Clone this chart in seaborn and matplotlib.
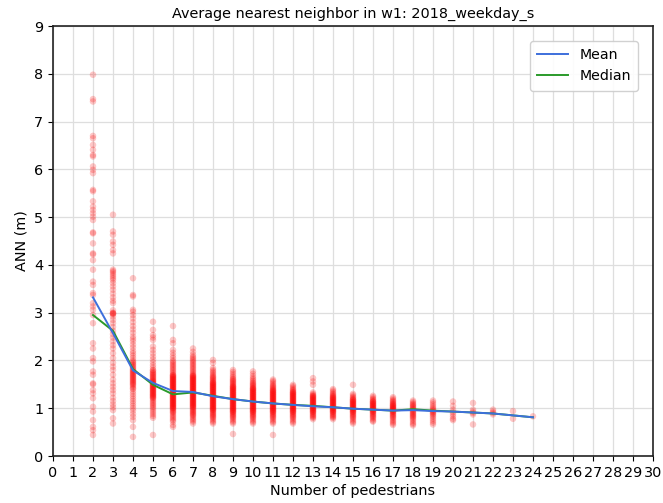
import matplotlib
matplotlib.use("Agg")
import matplotlib.pyplot as plt
from matplotlib.lines import Line2D
import seaborn as sns
import pandas as pd

# ---- data ----
title = "Average nearest neighbor in w1: 2018_weekday_s"
x_label = "Number of pedestrians"
y_label = "ANN (m)"

ann_2 = [7.98, 7.47, 7.42, 6.70, 6.65, 6.51, 6.41, 6.30, 6.27, 6.06, 5.99, 5.92,
         5.57, 5.54, 5.33, 5.22, 5.15, 5.08, 5.01, 4.94, 4.68, 4.66, 4.45, 4.24,
         4.22, 4.10, 3.90, 3.65, 3.58, 3.41, 3.37, 3.20, 3.13, 3.06, 2.95, 2.78,
         2.36, 2.25, 2.05, 1.98, 1.77, 1.70, 1.52, 1.50, 1.38, 1.31, 1.21, 1.03,
         0.93, 0.75, 0.61, 0.54, 0.44]
ann_3 = [5.05, 4.70, 4.63, 4.49, 4.42, 4.31, 4.24, 3.90, 3.87, 3.84, 3.80, 3.76,
         3.72, 3.68, 3.62, 3.55, 3.48, 3.40, 3.32, 3.25, 3.20, 3.05, 3.00, 2.99,
         2.98, 2.97, 2.92, 2.85, 2.78, 2.70, 2.62, 2.55, 2.48, 2.40, 2.32, 2.25,
         2.15, 2.05, 1.95, 1.87, 1.80, 1.70, 1.60, 1.52, 1.45, 1.38, 1.31, 1.22,
         1.15, 1.08, 1.02, 0.96, 0.79, 0.68]
ann_4 = [3.72, 3.37, 3.34, 3.06, 3.02, 2.95, 2.88, 2.80, 2.72, 2.65, 2.58, 2.50,
         2.45, 2.40, 2.33, 2.27, 2.20, 2.15, 2.10, 2.05, 2.00, 1.97, 1.95, 1.92,
         1.90, 1.87, 1.85, 1.82, 1.80, 1.78, 1.76, 1.74, 1.72, 1.70, 1.68, 1.66,
         1.64, 1.62, 1.60, 1.58, 1.56, 1.54, 1.52, 1.50, 1.48, 1.45, 1.42, 1.40,
         1.35, 1.30, 1.25, 1.20, 1.15, 1.10, 1.05, 1.00, 0.95, 0.88, 0.82, 0.75,
         0.61, 0.40]
ann_5 = [2.81, 2.64, 2.53, 2.48, 2.43, 2.29, 2.22, 2.15, 2.08, 2.02, 1.96, 1.90,
         1.85, 1.80, 1.79, 1.76, 1.74, 1.72, 1.70, 1.68, 1.66, 1.64, 1.62, 1.60,
         1.58, 1.57, 1.55, 1.54, 1.52, 1.51, 1.49, 1.48, 1.46, 1.45, 1.43, 1.42,
         1.40, 1.39, 1.37, 1.36, 1.34, 1.33, 1.31, 1.30, 1.28, 1.27, 1.25, 1.24,
         1.22, 1.21, 1.18, 1.15, 1.12, 1.09, 1.06, 1.03, 1.00, 0.96, 0.92, 0.88,
         0.84, 0.80, 0.44]
ann_6 = [2.72, 2.43, 2.36, 2.22, 2.16, 2.10, 2.05, 2.00, 1.97, 1.94, 1.91, 1.88,
         1.85, 1.82, 1.79, 1.76, 1.73, 1.70, 1.69, 1.68, 1.66, 1.65, 1.64, 1.62,
         1.61, 1.60, 1.58, 1.57, 1.56, 1.54, 1.53, 1.52, 1.50, 1.49, 1.48, 1.46,
         1.45, 1.44, 1.42, 1.41, 1.40, 1.38, 1.37, 1.36, 1.34, 1.33, 1.32, 1.30,
         1.29, 1.28, 1.26, 1.25, 1.24, 1.22, 1.21, 1.20, 1.18, 1.17, 1.16, 1.14,
         1.13, 1.12, 1.10, 1.09, 1.08, 1.06, 1.05, 1.04, 1.02, 1.01, 1.00, 0.98,
         0.96, 0.94, 0.92, 0.90, 0.87, 0.84, 0.81, 0.78, 0.75, 0.72, 0.65, 0.61]
ann_7 = [2.25, 2.18, 2.12, 2.08, 2.05, 2.02, 1.99, 1.96, 1.93, 1.90, 1.87, 1.84,
         1.81, 1.78, 1.75, 1.72, 1.70, 1.68, 1.67, 1.66, 1.64, 1.63, 1.62, 1.60,
         1.59, 1.58, 1.56, 1.55, 1.54, 1.52, 1.51, 1.50, 1.48, 1.47, 1.46, 1.44,
         1.43, 1.42, 1.40, 1.39, 1.38, 1.36, 1.35, 1.34, 1.32, 1.31, 1.30, 1.28,
         1.27, 1.26, 1.24, 1.23, 1.22, 1.20, 1.19, 1.18, 1.16, 1.15, 1.14, 1.12,
         1.11, 1.10, 1.08, 1.07, 1.06, 1.04, 1.03, 1.02, 1.00, 0.98, 0.96, 0.94,
         0.92, 0.90, 0.88, 0.86, 0.84, 0.81, 0.78, 0.75, 0.72, 0.68]
ann_8 = [2.01, 1.95, 1.84, 1.80, 1.77, 1.74, 1.71, 1.68, 1.66, 1.64, 1.62, 1.60,
         1.58, 1.56, 1.54, 1.53, 1.52, 1.50, 1.49, 1.48, 1.46, 1.45, 1.44, 1.42,
         1.41, 1.40, 1.38, 1.37, 1.36, 1.34, 1.33, 1.32, 1.30, 1.29, 1.28, 1.26,
         1.25, 1.24, 1.22, 1.21, 1.20, 1.18, 1.17, 1.16, 1.14, 1.13, 1.12, 1.10,
         1.09, 1.08, 1.06, 1.05, 1.04, 1.02, 1.01, 1.00, 0.98, 0.97, 0.96, 0.94,
         0.92, 0.90, 0.88, 0.86, 0.84, 0.82, 0.80, 0.77, 0.74, 0.71, 0.68]
ann_9 = [1.80, 1.76, 1.72, 1.68, 1.65, 1.62, 1.60, 1.58, 1.56, 1.54, 1.52, 1.50,
         1.48, 1.46, 1.45, 1.44, 1.42, 1.41, 1.40, 1.38, 1.37, 1.36, 1.34, 1.33,
         1.32, 1.30, 1.29, 1.28, 1.26, 1.25, 1.24, 1.22, 1.21, 1.20, 1.18, 1.17,
         1.16, 1.14, 1.13, 1.12, 1.10, 1.09, 1.08, 1.06, 1.05, 1.04, 1.02, 1.01,
         1.00, 0.98, 0.97, 0.96, 0.94, 0.93, 0.92, 0.90, 0.88, 0.86, 0.84, 0.82,
         0.80, 0.77, 0.74, 0.71, 0.68, 0.46]
ann_10 = [1.77, 1.72, 1.67, 1.63, 1.60, 1.57, 1.54, 1.52, 1.50, 1.48, 1.46, 1.44,
          1.42, 1.41, 1.40, 1.38, 1.37, 1.36, 1.34, 1.33, 1.32, 1.30, 1.29, 1.28,
          1.26, 1.25, 1.24, 1.22, 1.21, 1.20, 1.18, 1.17, 1.16, 1.14, 1.13, 1.12,
          1.10, 1.09, 1.08, 1.06, 1.05, 1.04, 1.02, 1.01, 1.00, 0.98, 0.97, 0.96,
          0.94, 0.93, 0.92, 0.90, 0.88, 0.86, 0.84, 0.82, 0.80, 0.77, 0.74, 0.71,
          0.68]
ann_11 = [1.60, 1.57, 1.54, 1.51, 1.48, 1.46, 1.44, 1.42, 1.40, 1.38, 1.37, 1.36,
          1.34, 1.33, 1.32, 1.30, 1.29, 1.28, 1.26, 1.25, 1.24, 1.22, 1.21, 1.20,
          1.18, 1.17, 1.16, 1.14, 1.13, 1.12, 1.10, 1.09, 1.08, 1.06, 1.05, 1.04,
          1.02, 1.01, 1.00, 0.98, 0.97, 0.96, 0.94, 0.93, 0.92, 0.90, 0.88, 0.86,
          0.84, 0.82, 0.80, 0.77, 0.74, 0.71, 0.68, 0.44]
ann_12 = [1.49, 1.46, 1.43, 1.40, 1.38, 1.36, 1.34, 1.33, 1.32, 1.30, 1.29, 1.28,
          1.26, 1.25, 1.24, 1.22, 1.21, 1.20, 1.18, 1.17, 1.16, 1.14, 1.13, 1.12,
          1.10, 1.09, 1.08, 1.06, 1.05, 1.04, 1.02, 1.01, 1.00, 0.98, 0.97, 0.96,
          0.94, 0.93, 0.92, 0.90, 0.88, 0.86, 0.84, 0.82, 0.80, 0.77, 0.74, 0.71,
          0.68]
ann_13 = [1.63, 1.56, 1.49, 1.33, 1.30, 1.28, 1.26, 1.25, 1.24, 1.22, 1.21, 1.20,
          1.18, 1.17, 1.16, 1.14, 1.13, 1.12, 1.10, 1.09, 1.08, 1.06, 1.05, 1.04,
          1.02, 1.01, 1.00, 0.98, 0.97, 0.96, 0.94, 0.93, 0.92, 0.90, 0.88, 0.86,
          0.84, 0.82, 0.80, 0.77]
ann_14 = [1.40, 1.37, 1.34, 1.31, 1.29, 1.27, 1.25, 1.24, 1.22, 1.21, 1.20, 1.18,
          1.17, 1.16, 1.14, 1.13, 1.12, 1.10, 1.09, 1.08, 1.06, 1.05, 1.04, 1.02,
          1.01, 1.00, 0.98, 0.97, 0.96, 0.94, 0.93, 0.92, 0.90, 0.88, 0.86, 0.84,
          0.82, 0.80, 0.77]
ann_15 = [1.49, 1.30, 1.27, 1.24, 1.22, 1.20, 1.18, 1.17, 1.16, 1.14, 1.13, 1.12,
          1.10, 1.09, 1.08, 1.06, 1.05, 1.04, 1.02, 1.01, 1.00, 0.98, 0.97, 0.96,
          0.94, 0.93, 0.92, 0.90, 0.88, 0.86, 0.84, 0.82, 0.80, 0.77, 0.74, 0.71,
          0.68]
ann_16 = [1.26, 1.23, 1.20, 1.18, 1.16, 1.14, 1.13, 1.12, 1.10, 1.09, 1.08, 1.06,
          1.05, 1.04, 1.02, 1.01, 1.00, 0.98, 0.97, 0.96, 0.94, 0.93, 0.92, 0.90,
          0.88, 0.86, 0.84, 0.82, 0.80, 0.77, 0.74, 0.72]
ann_17 = [1.23, 1.20, 1.17, 1.15, 1.13, 1.11, 1.09, 1.08, 1.06, 1.05, 1.04, 1.02,
          1.01, 1.00, 0.98, 0.97, 0.96, 0.94, 0.93, 0.92, 0.90, 0.88, 0.86, 0.84,
          0.82, 0.80, 0.77, 0.74, 0.71, 0.68, 0.65]
ann_18 = [1.16, 1.13, 1.10, 1.08, 1.06, 1.04, 1.02, 1.00, 0.98, 0.96, 0.94, 0.92,
          0.90, 0.88, 0.86, 0.84, 0.82, 0.80, 0.77, 0.74, 0.70, 0.67, 0.64]
ann_19 = [1.16, 1.12, 1.08, 1.04, 1.01, 0.98, 0.96, 0.94, 0.92, 0.90, 0.88, 0.85,
          0.82, 0.78, 0.74, 0.70, 0.66]
ann_20 = [1.14, 1.05, 0.97, 0.92, 0.88, 0.83, 0.78, 0.75]
ann_21 = [1.11, 0.97, 0.93, 0.90, 0.87, 0.66]
ann_22 = [0.97, 0.93, 0.90, 0.87]
ann_23 = [0.94, 0.78]
ann_24 = [0.83]

columns = {2: ann_2, 3: ann_3, 4: ann_4, 5: ann_5, 6: ann_6, 7: ann_7, 8: ann_8,
           9: ann_9, 10: ann_10, 11: ann_11, 12: ann_12, 13: ann_13, 14: ann_14,
           15: ann_15, 16: ann_16, 17: ann_17, 18: ann_18, 19: ann_19, 20: ann_20,
           21: ann_21, 22: ann_22, 23: ann_23, 24: ann_24}

line_x = [2, 3, 4, 5, 6, 7, 8, 9, 10, 11, 12, 13, 14, 15, 16, 17, 18, 19, 20, 21, 22, 23, 24]
mean_y = [3.32, 2.57, 1.79, 1.53, 1.36, 1.34, 1.25, 1.19, 1.14, 1.10, 1.07, 1.04,
          1.02, 0.99, 0.97, 0.95, 0.96, 0.94, 0.93, 0.91, 0.89, 0.85, 0.81]
median_y = [2.95, 2.62, 1.82, 1.49, 1.29, 1.33, 1.26, 1.19, 1.14, 1.10, 1.07, 1.05,
            1.02, 0.99, 0.97, 0.95, 0.98, 0.95, 0.93, 0.91, 0.89, 0.85, 0.81]

x_ticks = list(range(0, 31))
y_ticks = list(range(0, 10))

# ---- build tables ----
pts = pd.DataFrame([(n, v) for n, vals in columns.items() for v in vals],
                   columns=["n", "ann"])
lines = pd.DataFrame({"n": line_x * 2,
                      "ann": mean_y + median_y,
                      "stat": ["Mean"] * len(line_x) + ["Median"] * len(line_x)})

mean_color = "#3d6fdc"
median_color = "#2a9a2a"

fig = plt.figure(figsize=(6.63, 5.03), dpi=100)
ax = fig.add_axes([53 / 663, 47 / 503, 600 / 663, 430 / 503])

sns.scatterplot(data=pts, x="n", y="ann", color="red", alpha=0.22, s=22,
                edgecolor="none", ax=ax, zorder=2, legend=False)
sns.lineplot(data=lines, x="n", y="ann", hue="stat",
             palette={"Mean": mean_color, "Median": median_color},
             linewidth=1.4, ax=ax, zorder=3, hue_order=["Median", "Mean"],
             legend=False)

handles = [Line2D([], [], color=mean_color, lw=1.4, label="Mean"),
           Line2D([], [], color=median_color, lw=1.4, label="Median")]
ax.legend(handles=handles, loc="upper right", fontsize=10.2,
          borderpad=0.5, handlelength=2.2, framealpha=0.9,
          bbox_to_anchor=(0.987, 0.981))

ax.set_xlim(0, 30)
ax.set_ylim(0, 9)
ax.set_xticks(x_ticks)
ax.set_yticks(y_ticks)
ax.tick_params(labelsize=10.4)
ax.grid(True, color="#dedede", linewidth=0.9, zorder=0)
ax.set_axisbelow(True)
for sp in ax.spines.values():
    sp.set_color("#222222")
    sp.set_linewidth(1.2)

ax.set_title(title, fontsize=10.4)
ax.set_xlabel(x_label, fontsize=10.4, labelpad=3)
ax.set_ylabel(y_label, fontsize=10.4)

fig.savefig("out.png", dpi=100)
